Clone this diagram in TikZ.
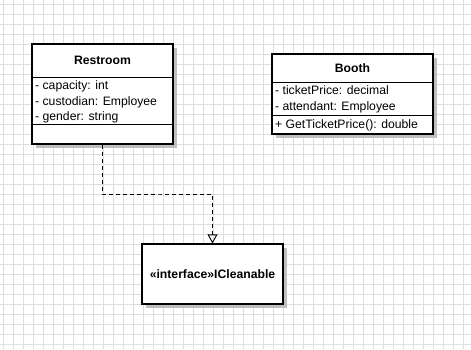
\documentclass[tikz,border=0pt]{standalone}
\usepackage{fontspec}
\setmainfont{Liberation Sans}
\usetikzlibrary{arrows.meta,shadows}

\begin{document}
\begin{tikzpicture}[x=1pt, y=-1pt, every node/.style={font=\fontsize{12.2}{14}\selectfont}]
  \tikzstyle{classbox}=[draw,line width=1.3pt,fill=white,inner sep=0pt,drop shadow={shadow xshift=4pt,shadow yshift=-4pt,opacity=1,fill=black!25}]
  \tikzstyle{member}=[anchor=base west,inner sep=0pt]
  \tikzstyle{title}=[anchor=base,inner sep=0pt,font=\fontsize{12.2}{14}\selectfont\bfseries]
  \tikzstyle{divider}=[line width=0.9pt]
  \tikzstyle{realize}=[draw,line width=0.9pt,dash pattern=on 4pt off 3pt,-{Triangle[open,length=9pt,width=10pt]}]
  \useasboundingbox (0,0) rectangle (471,349);
  \fill[white] (0,0) rectangle (471,349);
  % grid
  \foreach \gx in {3,13,...,473} \draw[black!13,line width=0.8pt] (\gx,0) -- (\gx,349);
  \foreach \gy in {4,14,...,354} \draw[black!13,line width=0.8pt] (0,\gy) -- (471,\gy);
  % Restroom
  \node[classbox,minimum width=141pt,minimum height=100pt] (restroom) at (102.5,94) {};
  \node[title] (restroomname) at (102.5,64.3) {Restroom};
  \draw[divider] (32,77) -- (173,77);
  \draw[divider] (32,124) -- (173,124);
  \node[member] (capacity) at (35,89.3) {- capacity: int};
  \node[member] (custodian) at (35,105) {- custodian: Employee};
  \node[member] (gender) at (35,120.7) {- gender: string};
  % Booth
  \node[classbox,minimum width=161pt,minimum height=80pt] (booth) at (352.5,94) {};
  \node[title] (boothname) at (352.5,72.3) {Booth};
  \draw[divider] (272,82) -- (433,82);
  \draw[divider] (272,115) -- (433,115);
  \node[member] (ticketprice) at (275,94) {- ticketPrice: decimal};
  \node[member] (attendant) at (275,110.3) {- attendant: Employee};
  \node[member] (getprice) at (275,128.3) {+ GetTicketPrice(): double};
  % ICleanable
  \node[classbox,minimum width=141pt,minimum height=60pt] (icleanable) at (212.5,274) {};
  \node[title] (icleanablename) at (212.5,278.3) {«interface»ICleanable};
  % realization
  \coordinate (bend) at (160,194);
  \draw[realize] (restroom.south) |- (bend) -| (icleanable.north);
\end{tikzpicture}
\end{document}
